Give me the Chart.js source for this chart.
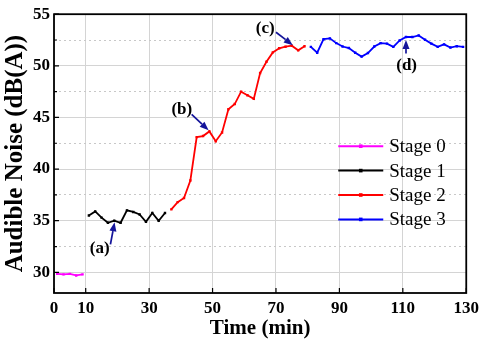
<!DOCTYPE html>
<html><head><meta charset="utf-8">
<script src="https://cdn.jsdelivr.net/npm/chart.js@4"></script>
<style>html,body{margin:0;padding:0;background:#fff;}#wrap{width:484px;height:347px;}</style>
</head><body><div id="wrap"><canvas id="c" width="484" height="347"></canvas></div>
<script>
const stageLabels = ['Stage 0', 'Stage 1', 'Stage 2', 'Stage 3'];
const stageColors = ['#ff00ff', '#000000', '#ff0000', '#0000ff'];
const stage0Time = [1, 3, 5, 7, 9];
const stage0Noise = [29.85, 29.8, 29.85, 29.7, 29.8];
const stage1Time = [11, 13, 15, 17, 19, 21, 23, 25, 27, 29, 31, 33, 35];
const stage1Noise = [35.5, 35.9, 35.3, 34.8, 35.0, 34.8, 36.0, 35.85, 35.6, 34.9, 35.75, 35.0, 35.75];
const stage2Time = [37, 39, 41, 43, 45, 47, 49, 51, 53, 55, 57, 59, 61, 63, 65, 67, 69, 71, 73, 75, 77, 79];
const stage2Noise = [36.1, 36.8, 37.2, 38.9, 43.1, 43.2, 43.65, 42.7, 43.55, 45.8, 46.3, 47.5, 47.15, 46.8, 49.3, 50.4, 51.3, 51.7, 51.85, 51.95, 51.5, 51.9];
const stage3Time = [81, 83, 85, 87, 89, 91, 93, 95, 97, 99, 101, 103, 105, 107, 109, 111, 113, 115, 117, 119, 121, 123, 125, 127, 129];
const stage3Noise = [51.84, 51.27, 52.58, 52.66, 52.2, 51.87, 51.72, 51.27, 50.89, 51.24, 51.87, 52.2, 52.15, 51.84, 52.46, 52.79, 52.79, 52.94, 52.53, 52.15, 51.84, 52.08, 51.77, 51.9, 51.84];
const xTickValues = [0, 10, 30, 50, 70, 90, 110, 130];
const yTickValues = [30, 32.5, 35, 37.5, 40, 42.5, 45, 47.5, 50, 52.5, 55];
const yLabelledTicks = [30, 35, 40, 45, 50, 55];
// annotations: label, label position, arrow tail, arrow head (data units)
const annoLabels = ['(a)', '(b)', '(c)', '(d)'];
const annoLabelPos = [[14.4, 32.3], [40.3, 45.8], [66.6, 53.6], [111.2, 50.0]];
const annoTail = [[17.8, 32.7], [43.4, 45.3], [70.0, 53.25], [111.0, 51.2]];
const annoHead = [[19.1, 34.85], [48.75, 43.75], [75.3, 52.0], [111.0, 52.5]];

const SERIF = '"Liberation Serif", "Times New Roman", serif';
const times = [stage0Time, stage1Time, stage2Time, stage3Time];
const noises = [stage0Noise, stage1Noise, stage2Noise, stage3Noise];

const datasets = stageLabels.map((lab, i) => ({
  label: lab,
  data: times[i].map((t, k) => ({x: t, y: noises[i][k]})),
  borderColor: stageColors[i],
  backgroundColor: stageColors[i],
  borderWidth: 1.8,
  pointRadius: 1.7,
  pointStyle: 'rect',
  pointBorderWidth: 0,
  tension: 0
}));

function arrow(ctx, x1, y1, x2, y2, color) {
  const ang = Math.atan2(y2 - y1, x2 - x1);
  const hl = 9, hw = 3.5;
  const bx = x2 - hl * Math.cos(ang), by = y2 - hl * Math.sin(ang);
  ctx.strokeStyle = color; ctx.fillStyle = color; ctx.lineWidth = 1.7;
  ctx.beginPath(); ctx.moveTo(x1, y1); ctx.lineTo(bx, by); ctx.stroke();
  ctx.beginPath();
  ctx.moveTo(x2, y2);
  ctx.lineTo(bx + hw * Math.sin(ang), by - hw * Math.cos(ang));
  ctx.lineTo(bx - hw * Math.sin(ang), by + hw * Math.cos(ang));
  ctx.closePath(); ctx.fill();
}

const decor = {
  id: 'decor',
  afterDatasetsDraw(chart) {
    const {ctx, chartArea: a, scales: {x, y}} = chart;
    ctx.save();
    // frame
    ctx.strokeStyle = '#000'; ctx.lineWidth = 1.8;
    ctx.strokeRect(a.left, a.top, a.right - a.left, a.bottom - a.top);
    // inward ticks
    ctx.lineWidth = 1.2;
    ctx.beginPath();
    xTickValues.forEach(v => { const px = x.getPixelForValue(v); ctx.moveTo(px, a.bottom); ctx.lineTo(px, a.bottom - 5); });
    yTickValues.forEach(v => { const py = y.getPixelForValue(v); const len = yLabelledTicks.includes(v) ? 5 : 3; ctx.moveTo(a.left, py); ctx.lineTo(a.left + len, py); });
    ctx.stroke();
    // annotations
    const navy = '#14149a';
    annoLabels.forEach((lab, i) => {
      arrow(ctx, x.getPixelForValue(annoTail[i][0]), y.getPixelForValue(annoTail[i][1]),
        x.getPixelForValue(annoHead[i][0]), y.getPixelForValue(annoHead[i][1]), navy);
      ctx.fillStyle = '#000';
      ctx.font = 'bold 17px ' + SERIF;
      ctx.textAlign = 'center'; ctx.textBaseline = 'middle';
      ctx.fillText(lab, x.getPixelForValue(annoLabelPos[i][0]), y.getPixelForValue(annoLabelPos[i][1]));
    });
    // legend
    const lx = a.right - 128, tx = a.right - 77;
    const ly0 = a.top + 132, dy = 24.4;
    chart.data.datasets.forEach((ds, i) => {
      const yy = ly0 + i * dy;
      ctx.strokeStyle = ds.borderColor; ctx.fillStyle = ds.borderColor; ctx.lineWidth = 2;
      ctx.beginPath(); ctx.moveTo(lx, yy); ctx.lineTo(lx + 45, yy); ctx.stroke();
      ctx.fillRect(lx + 22.5 - 1.8, yy - 1.8, 3.6, 3.6);
      ctx.fillStyle = '#000';
      ctx.font = '19px ' + SERIF;
      ctx.textAlign = 'left'; ctx.textBaseline = 'middle';
      ctx.fillText(ds.label, tx, yy + 1);
    });
    ctx.restore();
  }
};

new Chart(document.getElementById('c'), {
  type: 'line',
  data: {datasets},
  options: {
    responsive: false,
    animation: false,
    devicePixelRatio: 1,
    layout: {padding: {top: 10, right: 14, left: 0, bottom: 0}},
    plugins: {legend: {display: false}, tooltip: {enabled: false}},
    scales: {
      x: {
        type: 'linear', min: 0, max: 130,
        afterBuildTicks: s => { s.ticks = xTickValues.map(v => ({value: v})); },
        afterFit: s => { s.height = 54; },
        ticks: {color: '#000', font: {family: SERIF, size: 17, weight: 'bold'}, padding: 5, maxRotation: 0, autoSkip: false},
        grid: {color: '#d4d4d4', lineWidth: 1, drawTicks: false},
        border: {display: false},
        title: {display: true, text: 'Time (min)', color: '#000', font: {family: SERIF, size: 21, weight: 'bold'}, padding: {top: 0, bottom: 6}}
      },
      y: {
        type: 'linear', min: 28, max: 55,
        afterBuildTicks: s => { s.ticks = yTickValues.map(v => ({value: v})); },
        afterFit: s => { s.width = 54; },
        ticks: {color: '#000', font: {family: SERIF, size: 17, weight: 'bold'}, padding: 4, autoSkip: false,
          callback: v => yLabelledTicks.includes(v) ? String(v) : ''},
        grid: {color: ctx => (ctx.tick && !yLabelledTicks.includes(ctx.tick.value)) ? '#c8c8c8' : '#d4d4d4', lineWidth: 1, drawTicks: false},
        border: {display: false, dash: ctx => (ctx.tick && !yLabelledTicks.includes(ctx.tick.value)) ? [2, 3] : []},
        title: {display: true, text: 'Audible Noise (dB(A))', color: '#000', font: {family: SERIF, size: 25, weight: 'bold'}, padding: {top: 1, bottom: 0}}
      }
    }
  },
  plugins: [decor]
});
</script></body></html>
